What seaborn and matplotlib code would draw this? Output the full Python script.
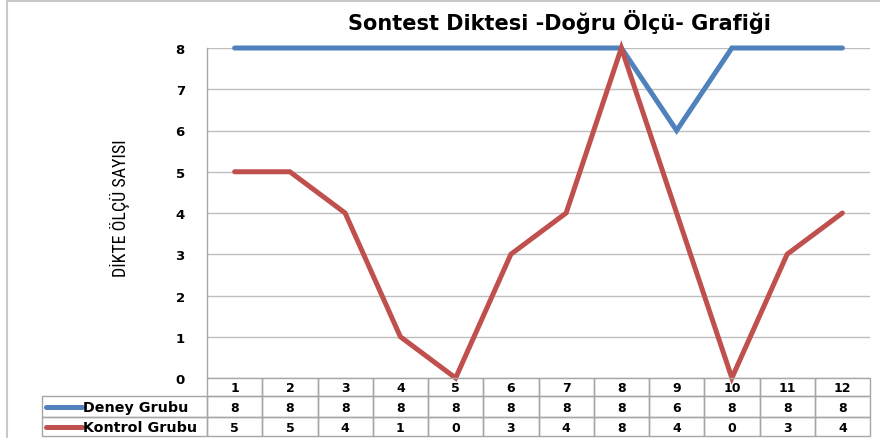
import matplotlib
matplotlib.use("Agg")
import matplotlib.pyplot as plt
import seaborn as sns
import pandas as pd
from matplotlib import font_manager
from matplotlib.patches import Rectangle
from matplotlib.lines import Line2D

# veriler
kategoriler = ['1', '2', '3', '4', '5', '6', '7', '8', '9', '10', '11', '12']
deney = [8, 8, 8, 8, 8, 8, 8, 8, 6, 8, 8, 8]
kontrol = [5, 5, 4, 1, 0, 3, 4, 8, 4, 0, 3, 4]
gruplar = ['Deney Grubu', 'Kontrol Grubu']
renkler = {'Deney Grubu': '#4F81BD', 'Kontrol Grubu': '#C0504D'}
y_ticks = [0, 1, 2, 3, 4, 5, 6, 7, 8]

W, H = 880, 439


def fx(px):
    return px / W


def fy(py):
    return 1 - py / H


def dar_font():
    # eksen etiketi icin dar bir yazi tipi bul
    adlar = {f.name for f in font_manager.fontManager.ttflist}
    for ad in ['Liberation Sans Narrow', 'Roboto Condensed', 'Open Sans Condensed',
               'DejaVu Sans Condensed']:
        if ad in adlar:
            return font_manager.FontProperties(family=ad, size=13)
    for f in font_manager.fontManager.ttflist:
        if ('Condensed' in f.fname or 'Narrow' in f.fname) and 'Bold' not in f.fname \
                and 'Oblique' not in f.fname and 'Italic' not in f.fname:
            return font_manager.FontProperties(fname=f.fname, size=13)
    return font_manager.FontProperties(family='DejaVu Sans', size=10.5)


sns.set_style('white')
plt.rcParams['font.family'] = ['DejaVu Sans']
plt.rcParams['text.color'] = 'black'
plt.rcParams['ytick.color'] = 'black'

fig = plt.figure(figsize=(W / 100, H / 100), dpi=100)

# dis cerceve
fig.patches.append(Rectangle((fx(7), fy(900)), 2, fy(2) - fy(900), transform=fig.transFigure,
                             fill=False, edgecolor='#C8C8C8', linewidth=1.5))

left, right, top, bottom = 207, 870, 49, 379
ax = fig.add_axes([fx(left), fy(bottom), fx(right) - fx(left), fy(top) - fy(bottom)])

df = pd.DataFrame({
    'idx': list(range(len(kategoriler))) * 2,
    'deger': deney + kontrol,
    'grup': [gruplar[0]] * len(deney) + [gruplar[1]] * len(kontrol),
})
sns.lineplot(data=df, x='idx', y='deger', hue='grup', palette=renkler, linewidth=3.6,
             legend=False, ax=ax)
for ln in ax.get_lines():
    ln.set_clip_on(False)
    ln.set_solid_joinstyle('miter')

ax.set_xlim(-0.5, len(kategoriler) - 0.5)
ax.set_ylim(0, 8)
ax.set_yticks(y_ticks)
ax.set_yticklabels([str(t) for t in y_ticks], fontweight='bold', fontsize=9.5, color='black')
ax.set_xticks([])
ax.set_xlabel('')
ax.set_ylabel('')
ax.tick_params(axis='y', length=0, pad=16)
ax.grid(axis='y', color='#BEBEBE', linewidth=1)
ax.set_axisbelow(True)
for s in ['top', 'right', 'bottom']:
    ax.spines[s].set_visible(False)
ax.spines['left'].set_color('#A6A6A6')
ax.spines['left'].set_linewidth(1)

# baslik ve eksen etiketi
fig.text(fx(559), fy(22), 'Sontest Diktesi -Doğru Ölçü- Grafiği', ha='center', va='center',
         fontsize=15, fontweight='bold', color='black')
fig.text(fx(120), fy(208), 'DİKTE ÖLÇÜ SAYISI', rotation=90, ha='center', va='center',
         fontproperties=dar_font(), color='black')

# veri tablosu
tab_left = 42
genislik = [tab_left, left] + [left + (right - left) * (i + 1) / 12 for i in range(12)]
satirlar = [379, 397, 418, 437]
cizgi = '#A6A6A6'
for r in range(3):
    y0, y1 = satirlar[r], satirlar[r + 1]
    start = 1 if r == 0 else 0
    for c in range(start, 13):
        x0, x1 = genislik[c], genislik[c + 1]
        fig.patches.append(Rectangle((fx(x0), fy(y1)), fx(x1) - fx(x0), fy(y0) - fy(y1),
                                     transform=fig.transFigure, fill=False,
                                     edgecolor=cizgi, linewidth=1))
        if c == 0:
            continue
        if r == 0:
            val = kategoriler[c - 1]
        elif r == 1:
            val = str(deney[c - 1])
        else:
            val = str(kontrol[c - 1])
        fig.text(fx((x0 + x1) / 2), fy((y0 + y1) / 2 + 1), val, ha='center', va='center',
                 fontsize=9, fontweight='bold', color='black')

for r, grup in enumerate(gruplar):
    yc = (satirlar[r + 1] + satirlar[r + 2]) / 2
    fig.lines.append(Line2D([fx(46), fx(82)], [fy(yc), fy(yc)], transform=fig.transFigure,
                            color=renkler[grup], linewidth=3.6, solid_capstyle='round'))
    fig.text(fx(83), fy(yc + 1), grup, ha='left', va='center', fontsize=10.3,
             fontweight='bold', color='black')

fig.savefig('out.png', dpi=100)
